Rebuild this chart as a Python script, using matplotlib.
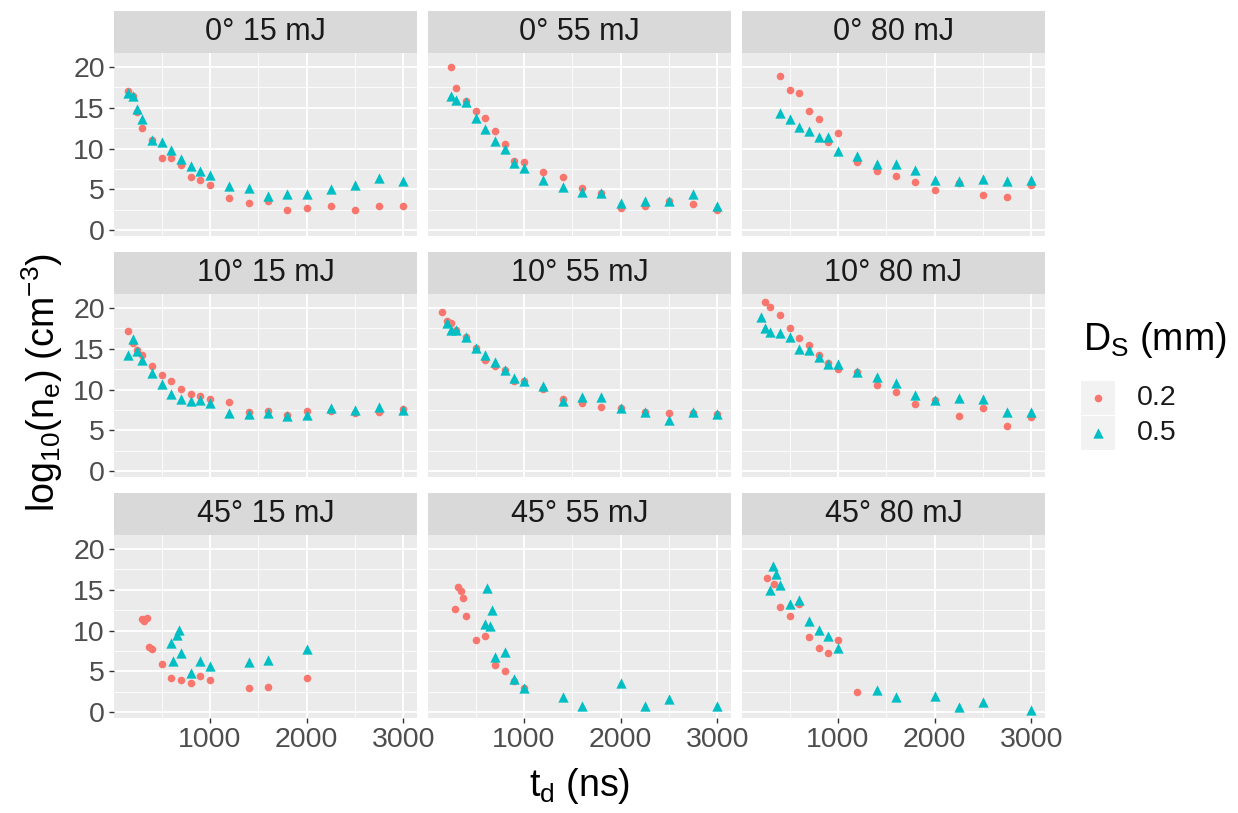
import matplotlib
matplotlib.use("Agg")
import matplotlib.pyplot as plt
import numpy as np

plt.rcParams['font.family'] = ['Liberation Sans', 'DejaVu Sans']
plt.rcParams['mathtext.fontset'] = 'custom'
plt.rcParams['mathtext.rm'] = 'Liberation Sans'
plt.rcParams['mathtext.it'] = 'Liberation Sans'
plt.rcParams['mathtext.bf'] = 'Liberation Sans:bold'

# ---- data (delay time in ns, log10 electron density) ----
t_full = [150, 200, 250, 300, 400, 500, 600, 700, 800, 900, 1000,
          1200, 1400, 1600, 1800, 2000, 2250, 2500, 2750, 3000]
t_from200 = t_full[1:]
t_from250 = t_full[2:]
t_from400 = t_full[4:]

# 0 deg
ne_0_15_a = [17.0, 16.4, 14.5, 12.5, 11.1, 8.9, 8.9, 8.0, 6.5, 6.1, 5.5,
             3.9, 3.3, 3.6, 2.5, 2.7, 3.0, 2.5, 2.9, 2.9]
ne_0_15_b = [16.8, 16.4, 14.9, 13.6, 11.1, 10.8, 9.8, 8.7, 7.9, 7.2, 6.7,
             5.4, 5.2, 4.2, 4.4, 4.4, 5.0, 5.5, 6.4, 6.0]
ne_0_55_a = [20.0, 17.4, 15.8, 14.6, 13.8, 12.2, 10.6, 8.5, 8.4,
             7.1, 6.5, 5.2, 4.6, 2.7, 2.9, 3.6, 3.2, 2.5]
ne_0_55_b = [16.5, 15.9, 15.7, 13.8, 12.4, 10.9, 9.9, 8.2, 7.6,
             6.2, 5.3, 4.7, 4.5, 3.3, 3.6, 3.6, 4.4, 2.9]
ne_0_80_a = [18.9, 17.2, 16.8, 14.6, 13.6, 10.8, 11.9,
             8.4, 7.2, 6.6, 5.9, 4.9, 5.8, 4.3, 4.1, 5.5]
ne_0_80_b = [14.4, 13.6, 12.6, 12.1, 11.4, 11.4, 9.7,
             9.1, 8.1, 8.1, 7.4, 6.1, 6.0, 6.3, 6.0, 6.2]

# 10 deg
ne_10_15_a = [17.2, 15.7, 14.8, 14.3, 12.9, 11.8, 11.1, 10.1, 9.5, 9.2, 8.9,
              8.5, 7.2, 7.4, 6.9, 7.4, 7.4, 7.1, 7.2, 7.6]
ne_10_15_b = [14.2, 16.2, 14.7, 13.6, 12.0, 10.7, 9.5, 8.9, 8.6, 8.7, 8.3,
              7.1, 7.0, 7.1, 6.7, 6.9, 7.7, 7.5, 7.9, 7.5]
ne_10_55_a = [19.5, 18.4, 18.2, 17.3, 16.4, 15.1, 13.6, 12.9, 12.4, 11.1, 11.0,
              10.1, 8.9, 8.4, 7.9, 7.8, 7.3, 7.1, 7.1, 7.0]
ne_10_55_b = [18.2, 17.3, 17.3, 16.4, 15.1, 14.3, 13.4, 12.4, 11.4, 11.0,
              10.4, 8.6, 9.1, 9.1, 7.8, 7.3, 6.3, 7.2, 7.0]
ne_10_80_a = [20.7, 20.1, 19.1, 17.6, 16.3, 15.5, 14.3, 13.2, 12.5,
              12.1, 10.6, 9.7, 8.2, 8.7, 6.7, 7.7, 5.5, 6.6]
ne_10_80_b = [18.9, 17.6, 17.1, 16.9, 16.4, 15.0, 14.9, 14.0, 13.1, 13.1,
              12.2, 11.6, 10.8, 9.3, 8.7, 9.0, 8.8, 7.2, 7.2]

# 45 deg (irregular delays)
t_45_15_a = [300, 320, 350, 370, 400, 500, 600, 700, 800, 900, 1000, 1400, 1600, 2000]
ne_45_15_a = [11.4, 11.2, 11.6, 8.0, 7.7, 5.9, 4.2, 4.0, 3.6, 4.4, 4.0, 2.9, 3.1, 4.2]
t_45_15_b = [600, 620, 655, 680, 700, 800, 900, 1000, 1400, 1600, 2000]
ne_45_15_b = [8.5, 6.3, 9.5, 10.1, 7.3, 4.8, 6.3, 5.6, 6.2, 6.4, 7.7]

t_45_55_a = [290, 320, 345, 370, 400, 500, 600, 700, 800, 900, 1000]
ne_45_55_a = [12.7, 15.4, 14.9, 14.0, 11.8, 8.9, 9.3, 5.8, 5.1, 3.8, 3.0]
t_45_55_b = [595, 620, 645, 670, 700, 800, 900, 1000, 1400, 1600, 2000, 2250, 2500, 3000]
ne_45_55_b = [10.8, 15.2, 10.6, 12.5, 6.8, 7.4, 4.1, 3.0, 1.9, 0.8, 3.6, 0.8, 1.6, 0.7]

t_45_80_a = [265, 340, 400, 500, 600, 700, 800, 900, 1000, 1200]
ne_45_80_a = [16.5, 15.7, 12.9, 11.8, 13.3, 9.2, 7.9, 7.3, 8.9, 2.5]
t_45_80_b = [300, 325, 360, 400, 500, 600, 700, 800, 900, 1000, 1400, 1600, 2000, 2250, 2500, 3000]
ne_45_80_b = [15.0, 17.9, 16.9, 15.6, 13.3, 13.8, 11.2, 10.1, 9.3, 7.9, 2.7, 1.8, 2.0, 0.6, 1.3, 0.3]

panel_titles = ["0° 15 mJ", "0° 55 mJ", "0° 80 mJ",
                "10° 15 mJ", "10° 55 mJ", "10° 80 mJ",
                "45° 15 mJ", "45° 55 mJ", "45° 80 mJ"]
series_labels = ["0.2", "0.5"]

panels = [
    ((t_full, ne_0_15_a), (t_full, ne_0_15_b)),
    ((t_from250, ne_0_55_a), (t_from250, ne_0_55_b)),
    ((t_from400, ne_0_80_a), (t_from400, ne_0_80_b)),
    ((t_full, ne_10_15_a), (t_full, ne_10_15_b)),
    ((t_full, ne_10_55_a), (t_from200, ne_10_55_b)),
    ((t_from250, ne_10_80_a), (t_from200, ne_10_80_b)),
    ((t_45_15_a, ne_45_15_a), (t_45_15_b, ne_45_15_b)),
    ((t_45_55_a, ne_45_55_a), (t_45_55_b, ne_45_55_b)),
    ((t_45_80_a, ne_45_80_a), (t_45_80_b, ne_45_80_b)),
]

# ---- style ----
RED = '#F8766D'
TEAL = '#00BFC4'
PANEL_BG = '#EBEBEB'
STRIP_BG = '#D9D9D9'
W, H = 1238, 813


def fig_rect(x0, y0, w, h):
    # pixel box (top-left origin) -> figure fraction
    return [x0 / W, 1 - (y0 + h) / H, w / W, h / H]


# shared scales like ggplot (5% expansion)
all_t = np.concatenate([np.r_[s[0]] for p in panels for s in p])
all_y = np.concatenate([np.r_[s[1]] for p in panels for s in p])
tr = all_t.max() - all_t.min()
yr = all_y.max() - all_y.min()
xlim = (all_t.min() - 0.05 * tr, all_t.max() + 0.05 * tr)
ylim = (all_y.min() - 0.05 * yr, all_y.max() + 0.05 * yr)

fig = plt.figure(figsize=(W / 100, H / 100), dpi=100)

col_left = [114, 428, 742]
row_top = [53, 294, 535]
pw, ph = 303, 183
strip_h = 42

for i, (title, (sa, sb)) in enumerate(zip(panel_titles, panels)):
    r, c = divmod(i, 3)
    ax = fig.add_axes(fig_rect(col_left[c], row_top[r], pw, ph))
    ax.set_facecolor(PANEL_BG)
    for sp in ax.spines.values():
        sp.set_visible(False)
    ax.set_xlim(xlim)
    ax.set_ylim(ylim)
    ax.set_xticks([1000, 2000, 3000])
    ax.set_xticks([500, 1500, 2500], minor=True)
    ax.set_yticks([0, 5, 10, 15, 20])
    ax.set_yticks([2.5, 7.5, 12.5, 17.5], minor=True)
    ax.grid(which='major', color='white', linewidth=1.3)
    ax.grid(which='minor', color='white', linewidth=0.6)
    ax.set_axisbelow(True)
    ax.tick_params(which='minor', length=0)
    ax.tick_params(which='major', length=3.5, width=1.0, color='#333333',
                   labelsize=20.5, labelcolor='#4D4D4D', pad=3)
    if c != 0:
        ax.tick_params(axis='y', which='major', length=0, labelleft=False)
    if r != 2:
        ax.tick_params(axis='x', which='major', length=0, labelbottom=False)

    ax.scatter(sa[0], sa[1], s=30, marker='o', color=RED, linewidths=0, zorder=3)
    ax.scatter(sb[0], sb[1], s=55, marker='^', color=TEAL, linewidths=0, zorder=3)

    sax = fig.add_axes(fig_rect(col_left[c], row_top[r] - strip_h, pw, strip_h))
    sax.set_facecolor(STRIP_BG)
    sax.set_xticks([])
    sax.set_yticks([])
    for sp in sax.spines.values():
        sp.set_visible(False)
    sax.text(0.5, 0.5, title, ha='center', va='center', fontsize=22,
             color='#1A1A1A', transform=sax.transAxes)

# axis titles
fig.text(580 / W, 1 - 786 / H, r'$\mathregular{t_d}$ (ns)', ha='center', va='center',
         fontsize=27)
fig.text(42 / W, 1 - 383 / H, r'log$_{10}$(n$_\mathregular{e}$) (cm$^{-3}$)',
         ha='center', va='center', rotation=90, fontsize=27)

# legend
fig.text(1083 / W, 1 - 340 / H, r'D$_\mathregular{S}$ (mm)', ha='left', va='center',
         fontsize=27)
leg_markers = [('o', RED, 30), ('^', TEAL, 55)]
for k, (lab, (mk, colr, sz)) in enumerate(zip(series_labels, leg_markers)):
    kax = fig.add_axes(fig_rect(1081, 381 + k * 35, 34, 34))
    kax.set_facecolor('#F2F2F2')
    kax.set_xlim(0, 1)
    kax.set_ylim(0, 1)
    kax.set_xticks([])
    kax.set_yticks([])
    for sp in kax.spines.values():
        sp.set_visible(False)
    kax.scatter([0.5], [0.5], s=sz, marker=mk, color=colr, linewidths=0)
    fig.text(1137 / W, 1 - (398 + k * 35) / H, lab, ha='left', va='center',
             fontsize=20.5, color='#1A1A1A')

fig.savefig('out.png', dpi=100)
